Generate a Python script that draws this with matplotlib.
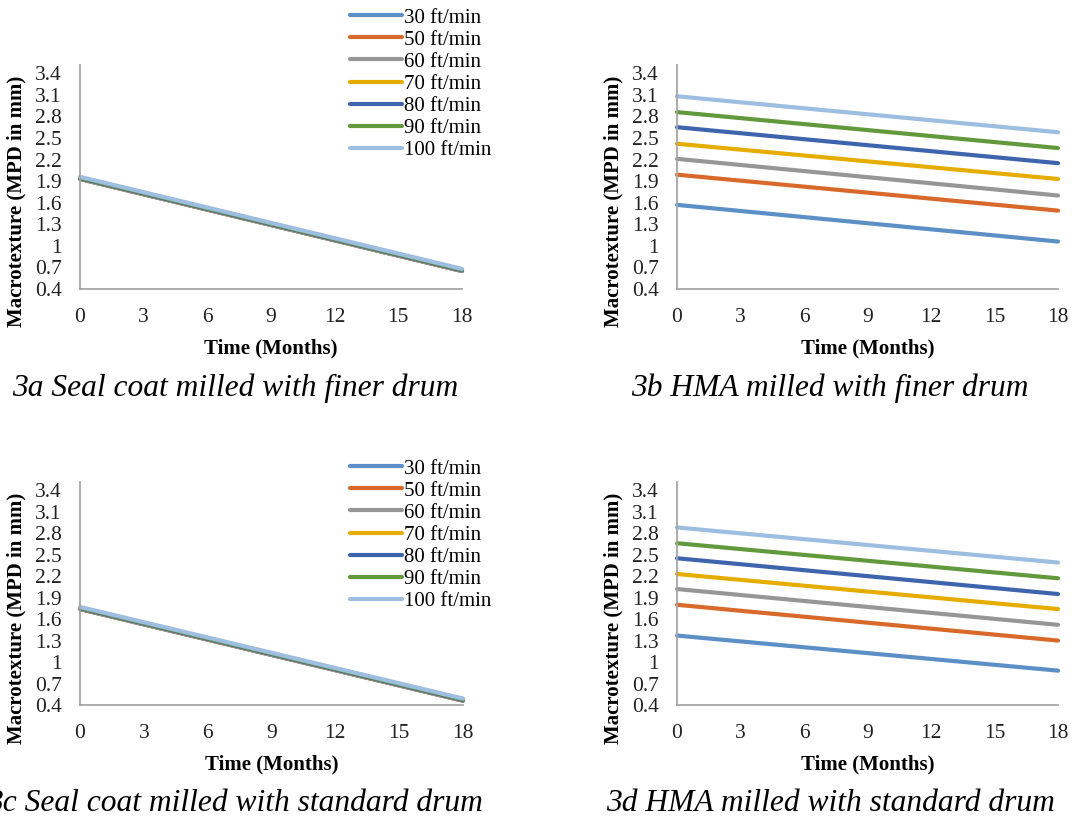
import matplotlib
matplotlib.use("Agg")
import matplotlib.pyplot as plt

# Time axis (months) and speed series
months = [0, 18]
speeds = ["30 ft/min", "50 ft/min", "60 ft/min", "70 ft/min",
          "80 ft/min", "90 ft/min", "100 ft/min"]
colors = ["#5B8FC6", "#D9692A", "#969696", "#E6AC00",
          "#3F64AE", "#63993D", "#9DBEE0"]

# 3a: seal coat, finer drum
seal_finer = [
    [1.93, 0.65], [1.93, 0.65], [1.93, 0.65], [1.94, 0.66],
    [1.94, 0.66], [1.95, 0.67], [1.96, 0.68],
]
# 3b: HMA, finer drum
hma_finer = [
    [1.57, 1.06], [1.99, 1.49], [2.21, 1.70], [2.42, 1.93],
    [2.65, 2.15], [2.86, 2.36], [3.08, 2.58],
]
# 3c: seal coat, standard drum
seal_standard = [
    [1.74, 0.46], [1.74, 0.46], [1.74, 0.46], [1.75, 0.47],
    [1.75, 0.47], [1.76, 0.48], [1.77, 0.49],
]
# 3d: HMA, standard drum
hma_standard = [
    [1.37, 0.88], [1.80, 1.30], [2.02, 1.52], [2.23, 1.74],
    [2.45, 1.95], [2.66, 2.17], [2.88, 2.39],
]

xticks = [0, 3, 6, 9, 12, 15, 18]
yticks = [0.4, 0.7, 1.0, 1.3, 1.6, 1.9, 2.2, 2.5, 2.8, 3.1, 3.4]
ytick_labels = ["0.4", "0.7", "1", "1.3", "1.6", "1.9", "2.2",
                "2.5", "2.8", "3.1", "3.4"]

captions = [
    "3a Seal coat milled with finer drum",
    "3b HMA milled with finer drum",
    "3c Seal coat milled with standard drum",
    "3d HMA milled with standard drum",
]

W, H = 1072, 822
plt.rcParams["font.family"] = ["Liberation Serif", "DejaVu Serif"]
fig = plt.figure(figsize=(W / 100, H / 100), dpi=100)


def px_axes(left, top, right, bottom):
    return fig.add_axes([left / W, 1 - bottom / H, (right - left) / W,
                         (bottom - top) / H])


panels = [
    (seal_finer, (80, 65, 462, 289)),
    (hma_finer, (677, 65, 1058, 289)),
    (seal_standard, (80, 482, 463, 705)),
    (hma_standard, (677, 482, 1058, 705)),
]

axes = []
for data, box in panels:
    ax = px_axes(*box)
    for name, col, vals in zip(speeds, colors, data):
        ax.plot(months, vals, color=col, lw=3.0, label=name,
                solid_capstyle="round", clip_on=False)
    ax.set_xlim(0, 18)
    ax.set_ylim(0.4, 3.515)
    ax.set_xticks(xticks)
    ax.set_xticklabels([str(t) for t in xticks])
    ax.set_yticks(yticks)
    ax.set_yticklabels(ytick_labels)
    ax.tick_params(length=0, labelsize=15.5, colors="#222222")
    ax.tick_params(axis="y", pad=13)
    ax.tick_params(axis="x", pad=14)
    for s in ("top", "right"):
        ax.spines[s].set_visible(False)
    for s in ("left", "bottom"):
        ax.spines[s].set_color("#A6A6A6")
        ax.spines[s].set_linewidth(1.3)
    ax.set_xlabel("Time (Months)", fontsize=15, fontweight="bold",
                  labelpad=8)
    ax.set_ylabel("Macrotexture (MPD in mm)", fontsize=15,
                  fontweight="bold")
    ax.yaxis.set_label_coords(-0.14, 0.39)
    axes.append(ax)

# Legends on the seal coat panels
for ax, top in ((axes[0], 8), (axes[2], 459)):
    h, l = ax.get_legend_handles_labels()
    fig.legend(h, l, loc="upper left",
               bbox_to_anchor=(350 / W, 1 - top / H),
               frameon=False, fontsize=15, handlelength=2.5,
               handletextpad=0.1, labelspacing=0.12, borderpad=0,
               borderaxespad=0)

# Captions under each panel
fig.text(235 / W, 1 - 388 / H, captions[0], fontsize=22.7, style="italic",
         ha="center", va="center")
fig.text(830 / W, 1 - 388 / H, captions[1], fontsize=22.7, style="italic",
         ha="center", va="center")
fig.text(483 / W, 1 - 803 / H, captions[2], fontsize=22.7, style="italic",
         ha="right", va="center")
fig.text(830 / W, 1 - 803 / H, captions[3], fontsize=22.7, style="italic",
         ha="center", va="center")

fig.savefig("out.png", dpi=100, facecolor="white")
